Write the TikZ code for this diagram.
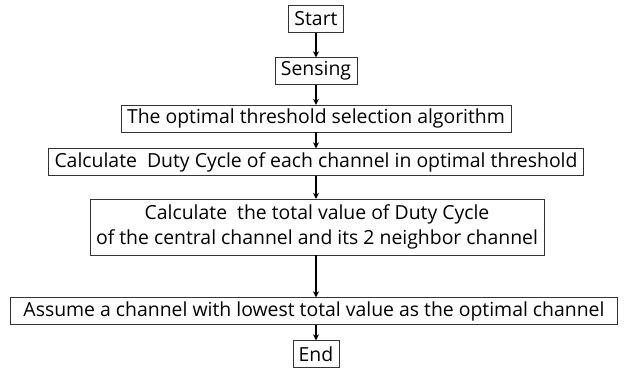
\documentclass[tikz,border=0pt]{standalone}
\usepackage{fontspec}
\setmainfont{Open Sans}
\usetikzlibrary{arrows.meta}
\tikzstyle{stepbox} = [draw=black!80, thin, rectangle, inner xsep=6pt,
    inner ysep=1pt, minimum height=27pt, align=center,
    font=\fontsize{19.4}{25}\selectfont]
\tikzstyle{flow} = [-{Stealth[length=6pt,width=6pt]}, line width=2.2pt]

\begin{document}
\begin{tikzpicture}[x=1pt,y=-1pt]
                \useasboundingbox (0,0) rectangle (624,370);
                \node [stepbox] (start) at (316,19) {Start};
                \node [stepbox] (sensing) at (316,71) {Sensing};
                \node [stepbox] (thresh) at (316,118.5) {The optimal threshold selection algorithm};
                \node [stepbox] (duty) at (316,162) {Calculate\ \ Duty Cycle of each channel in optimal threshold};
                \node [stepbox, minimum height=56pt] (total) at (317,227) {Calculate\ \ the total value of Duty Cycle\\of the central channel and its 2 neighbor channel};
                \node [stepbox, minimum width=607pt] (assume) at (314,311) {Assume a channel with lowest total value as the optimal channel};
                \node [stepbox] (finish) at (316,354) {End};
                \draw [flow] (start) -- (sensing);
                \draw [flow] (sensing) -- (thresh);
                \draw [flow] (thresh) -- (duty);
                \draw [flow] (duty) -- (duty |- total.north);
                \draw [flow] (total.south -| duty) -- (duty |- assume.north);
                \draw [flow] (assume.south -| finish) -- (finish);
            \end{tikzpicture}
\end{document}
